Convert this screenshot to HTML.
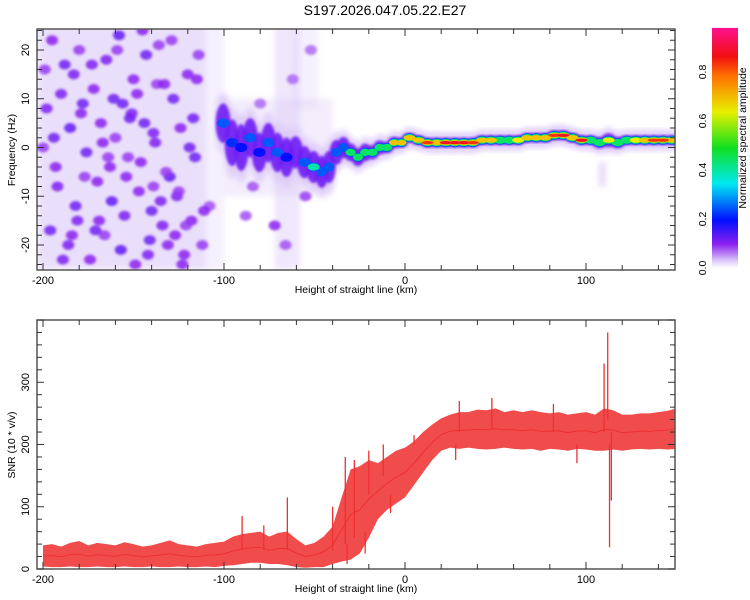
<!DOCTYPE html>
<html><head><meta charset="utf-8">
<style>
body{margin:0;background:#fff;}
svg{display:block;font-family:"Liberation Sans",sans-serif;}
</style></head>
<body>
<svg id="c" width="750" height="600" viewBox="0 0 750 600">
<defs>
<linearGradient id="cmap" x1="0" y1="1" x2="0" y2="0">
<stop offset="0" stop-color="#ffffff"/>
<stop offset="0.03" stop-color="#dcc8f8"/>
<stop offset="0.1" stop-color="#8a20f0"/>
<stop offset="0.2" stop-color="#0010ff"/>
<stop offset="0.35" stop-color="#00e8f0"/>
<stop offset="0.5" stop-color="#10e020"/>
<stop offset="0.65" stop-color="#e8f000"/>
<stop offset="0.8" stop-color="#ff7000"/>
<stop offset="0.88" stop-color="#f01010"/>
<stop offset="1" stop-color="#ff1090"/>
</linearGradient>
<clipPath id="clipTop"><rect x="37" y="29" width="638" height="241"/></clipPath>
<clipPath id="clipBot"><rect x="37" y="320" width="638" height="249"/></clipPath>
<filter id="blur1"><feGaussianBlur stdDeviation="1.2"/></filter>
<filter id="blur3"><feGaussianBlur stdDeviation="3"/></filter>
</defs>
<text x="385" y="15" text-anchor="middle" font-size="14">S197.2026.047.05.22.E27</text>
<g id="top"></g>
<g id="bot"></g>
<g id="cbar"></g>
</svg>
<script>
// ---- data ----
const xTicks = [-200, -100, 0, 100];
const fTicks = [-20, -10, 0, 10, 20];
const snrTicks = [0, 100, 200, 300];
const cbTicks = [0.0, 0.2, 0.4, 0.6, 0.8];
// noise zones
const zoneX0 = [-203, -110, -72, -100, -62, 107];
const zoneX1 = [-110, -100, -58, -40, -48, 111];
const zoneF0 = [-25, -25, -25, -10, 8, -8];
const zoneF1 = [25, 25, 25, 10, 25, -3];
const zoneOp = [0.55, 0.25, 0.4, 0.3, 0.25, 0.6];
// noise blobs
const blobX = [-195,-188,-180,-172,-165,-158,-150,-143,-136,-128,-120,-114,-198,-185,-176,-168,-160,-152,-146,-138,-130,-124,-116,-192,-182,-170,-162,-155,-147,-140,-132,-126,-118,-196,-186,-174,-166,-157,-149,-141,-134,-122,-112,-190,-178,-163,-151,-137,-127,-119,-108,-84,-72,-66,-55,-62,-80,-88,-52,-70,
 -200,-193,-183,-177,-169,-161,-153,-145,-139,-131,-125,-117,-111,-199,-189,-179,-171,-159,-148,-142,-133,-121,-194,-184,-173,-164,-154,-144,-135,-129,-115,-181,-167,-156,-139,-123];
const blobF = [22,17,20,12,18,23,14,19,21,10,15,19,8,4,-1,5,2,6,-3,1,-6,4,-2,-8,-12,-7,-11,-14,-9,-13,-5,-10,-15,-17,-20,-23,-18,-21,-24,-19,-16,-22,-20,11,9,-4,7,13,-18,0,-12,-8,-16,-20,-10,14,9,-14,20,-3,
 0,-4,15,-6,-15,10,-2,24,3,-20,-9,6,-13,16,-23,7,-17,20,11,-22,13,-16,2,-18,17,-2,-6,5,-11,22,14,-15,1,9,-8,-24];
const blobA = [0.1,0.12,0.09,0.1,0.11,0.13,0.1,0.12,0.09,0.12,0.1,0.09,0.11,0.13,0.12,0.1,0.09,0.12,0.1,0.11,0.13,0.1,0.12,0.11,0.12,0.1,0.13,0.11,0.1,0.12,0.09,0.11,0.1,0.12,0.11,0.1,0.09,0.13,0.1,0.12,0.11,0.1,0.09,0.11,0.12,0.1,0.11,0.09,0.1,0.12,0.08,0.08,0.1,0.08,0.09,0.07,0.07,0.08,0.07,0.08,
 0.09,0.1,0.11,0.09,0.1,0.12,0.09,0.1,0.11,0.1,0.09,0.12,0.1,0.09,0.11,0.1,0.12,0.09,0.1,0.11,0.1,0.09,0.12,0.1,0.11,0.09,0.1,0.12,0.11,0.09,0.1,0.11,0.1,0.12,0.09,0.1];
// signal ridge
const ridgeX = [-103,-98,-93,-88,-83,-78,-73,-68,-63,-58,-53,-48,-44,-40,-36,-32,-28,-24,-20,-16,-12,-8,-4,0,5,10,15,20,25,30,35,40,45,50,55,60,65,70,75,80,85,90,95,100,105,110,115,120,125,130,135,140,145,150];
const ridgeF = [5,1,0,2,-1,1,-1,-2,-1,-3,-4,-5,-4,-1,0,-1,-2,-1,-1,0,0,1,1,2,1.5,1,1,1,1,1,1,1.5,1.5,1.5,1.5,1.5,2,2,2,2.5,2.5,2,1.5,1.5,1,1.5,1,1.5,1.5,1.5,1.5,1.5,1.5,1.5];
const ridgeW = [5,6,6,5,5,5,5,5,4,4,4,4,4,3,2.5,2,2,2,1.5,1.5,1.2,1.2,1,1,1,1,1,1,1,1,1,1,1,1,1,1,1,1,1,1,1,1,1,1,1.2,1.5,1.2,1,1,1,1,1,1,1];
const ridgeA = [0.3,0.22,0.2,0.25,0.2,0.3,0.25,0.2,0.18,0.25,0.4,0.35,0.3,0.25,0.35,0.45,0.5,0.5,0.55,0.6,0.6,0.7,0.75,0.8,0.7,0.85,0.75,0.9,0.9,0.9,0.85,0.8,0.7,0.55,0.6,0.65,0.7,0.75,0.8,0.85,0.95,0.75,0.9,0.6,0.55,0.65,0.55,0.6,0.65,0.8,0.85,0.85,0.8,0.8];
// SNR envelope
const snrX = [-200,-195,-190,-185,-180,-175,-170,-165,-160,-155,-150,-145,-140,-135,-130,-125,-120,-115,-110,-105,-100,-95,-90,-85,-80,-75,-70,-65,-60,-55,-50,-45,-40,-35,-30,-25,-20,-15,-10,-5,0,5,10,15,20,25,30,35,40,45,50,55,60,65,70,75,80,85,90,95,100,105,110,115,120,125,130,135,140,145,150];
const snrHigh = [38,40,36,42,45,38,42,40,38,43,40,36,38,42,46,40,38,36,40,42,44,52,56,58,60,52,58,60,48,38,42,52,68,115,160,165,175,170,180,190,195,205,220,232,242,248,252,252,256,255,258,252,255,252,255,252,250,252,248,250,252,248,258,255,248,248,250,250,252,254,258];
const snrLow = [4,3,3,4,3,3,4,3,3,4,3,3,4,3,3,4,3,3,4,3,5,6,8,10,10,8,8,6,3,2,3,3,8,12,15,25,50,80,95,105,115,135,155,175,190,195,193,195,193,192,193,195,193,192,193,190,193,192,190,193,192,190,190,192,190,192,193,192,193,192,193];
const spikeX = [-90,-78,-65,-40,-33,-28,-20,-12,5,30,48,82,110,112,113,114,150,-32,-22,-8,28,95];
const spikeFrom = [30,30,30,30,40,50,120,150,200,220,225,220,220,240,200,220,230,40,60,120,200,200];
const spikeTo = [85,70,115,100,180,175,190,200,215,270,275,265,330,380,35,110,270,8,25,90,175,170];

// ---- scales ----
const X = v => 405 + 1.81*v;
const F = f => 147.5 - 4.875*f;
const Y = s => 569 - 0.6225*s;
const CB = a => 268 - 245*a;
const NS = 'http://www.w3.org/2000/svg';
function mk(tag, attrs, parent){const e=document.createElementNS(NS,tag);for(const k in attrs)e.setAttribute(k,attrs[k]);parent.appendChild(e);return e;}
function cmap(a){
  const st=[[0,[255,255,255]],[0.03,[220,200,248]],[0.1,[138,32,240]],[0.2,[0,16,255]],[0.35,[0,232,240]],[0.5,[16,224,32]],[0.65,[232,240,0]],[0.8,[255,112,0]],[0.88,[240,16,16]],[1,[255,16,144]]];
  a=Math.max(0,Math.min(1,a));
  for(let i=1;i<st.length;i++){if(a<=st[i][0]){const t=(a-st[i-1][0])/(st[i][0]-st[i-1][0]);const c=st[i-1][1].map((v,j)=>Math.round(v+(st[i][1][j]-v)*t));return `rgb(${c})`;}}
  return 'rgb(255,16,144)';
}
const gTop=document.getElementById('top'), gBot=document.getElementById('bot'), gCbar=document.getElementById('cbar');

// ---- spectrogram ----
const tg=mk('g',{'clip-path':'url(#clipTop)'},gTop);
const zg=mk('g',{filter:'url(#blur3)'},tg);
zoneX0.forEach((x0,i)=>{
  const r=mk('rect',{x:X(x0),y:F(zoneF1[i]),width:X(zoneX1[i])-X(x0),height:F(zoneF0[i])-F(zoneF1[i]),fill:'#d8c4f6',opacity:zoneOp[i]},zg);
  
  
});
const bg=mk('g',{filter:'url(#blur1)'},tg);
blobX.forEach((x,i)=>{
  const e=mk('ellipse',{cx:X(x),cy:F(blobF[i]),rx:6,ry:5,fill:cmap(blobA[i]),opacity:0.85},bg);
  
  
});
const rg=mk('g',{},tg);
ridgeX.forEach((x,i)=>{
  if(i===ridgeX.length-1)return;
  const x2=ridgeX[i+1];
  const w=X(x2)-X(x)+2;
  const e=mk('ellipse',{cx:(X(x)+X(x2))/2,cy:F(ridgeF[i]),rx:w/2+3,ry:ridgeW[i]*4.875+6,fill:'#dcc8f8',opacity:0.8,filter:'url(#blur3)'},rg);
  
  
});
ridgeX.forEach((x,i)=>{
  if(i===ridgeX.length-1)return;
  const x2=ridgeX[i+1];
  const w=X(x2)-X(x)+2;
  const e=mk('ellipse',{cx:(X(x)+X(x2))/2,cy:F(ridgeF[i]),rx:w/2+2,ry:ridgeW[i]*4.875*0.75+1.5,fill:cmap(0.12),opacity:0.9,filter:'url(#blur1)'},rg);
  
  
});
[[0.2,4.6],[0.4,3.6],[0.65,2.6],[0.85,1.6]].forEach(([lv,ry])=>{
  ridgeX.forEach((x,i)=>{
    if(i===ridgeX.length-1)return;
    const a=ridgeA[i];
    if(a<lv)return;
    const x2=ridgeX[i+1];
    const w=X(x2)-X(x)+1;
    const e=mk('ellipse',{cx:(X(x)+X(x2))/2,cy:F(ridgeF[i]),rx:w/2+1,ry:ry,fill:cmap(Math.min(a,lv+0.05))},rg);
    
    
  });
});

function frame(g,x0,y0,x1,y1){
  const r=mk('rect',{x:x0,y:y0,width:x1-x0,height:y1-y0,fill:'none',stroke:'#555','stroke-width':1.5},g);
  
  
}
function xAxis(g,y0,y1){
  for(let v=-200;v<=140;v+=20){
    const big=v%100===0, L=big?7:5;
    mk('line',{x1:X(v),x2:X(v),y1:y1,y2:y1-L,stroke:'#333'},g);
    mk('line',{x1:X(v),x2:X(v),y1:y0,y2:y0+L,stroke:'#333'},g);
  }
  xTicks.forEach(v=>{
    const t=mk('text',{x:X(v),y:y1+14,'text-anchor':'middle','font-size':11},g);
    t.textContent=v;
    
    
  });
  const t=mk('text',{x:356,y:y1+23,'text-anchor':'middle','font-size':10.5},g);
  t.textContent='Height of straight line (km)';
  
  
}
frame(gTop,37,29,675,270);
xAxis(gTop,29,270);
for(let f=-24;f<=24;f+=2){
  const big=f%10===0, L=big?7:5;
  mk('line',{x1:37,x2:37+L,y1:F(f),y2:F(f),stroke:'#333'},gTop);
  mk('line',{x1:675,x2:675-L,y1:F(f),y2:F(f),stroke:'#333'},gTop);
}
fTicks.forEach(f=>{
  const t=mk('text',{x:0,y:0,'text-anchor':'middle','font-size':11,transform:`translate(29,${F(f)}) rotate(-90)`},gTop);
  t.textContent=f;
  
  
});
{const t=mk('text',{x:0,y:0,'text-anchor':'middle','font-size':10.5,transform:'translate(15,150) rotate(-90)'},gTop);
t.textContent='Frequency (Hz)';

}

// ---- SNR ----
const sg=mk('g',{'clip-path':'url(#clipBot)'},gBot);
let pts=snrX.map((x,i)=>`${X(x)},${Y(snrHigh[i])}`);
for(let i=snrX.length-1;i>=0;i--)pts.push(`${X(snrX[i])},${Y(snrLow[i])}`);
const band=mk('polygon',{points:pts.join(' '),fill:'#f03838',opacity:0.9},sg);


const mid=mk('polyline',{points:snrX.map((x,i)=>`${X(x)},${Y((snrHigh[i]+snrLow[i])/2)}`).join(' '),fill:'none',stroke:'#ee3030','stroke-width':1},sg);


spikeX.forEach((x,i)=>{
  const l=mk('line',{x1:X(x),x2:X(x),y1:Y(spikeFrom[i]),y2:Y(spikeTo[i]),stroke:'#ee3030','stroke-width':1.3},sg);
  
  
});
frame(gBot,37,320,675,569);
xAxis(gBot,320,569);
for(let s=0;s<=400;s+=20){
  const big=s%100===0, L=big?7:5;
  mk('line',{x1:37,x2:37+L,y1:Y(s),y2:Y(s),stroke:'#333'},gBot);
  mk('line',{x1:675,x2:675-L,y1:Y(s),y2:Y(s),stroke:'#333'},gBot);
}
snrTicks.forEach(s=>{
  const t=mk('text',{x:0,y:0,'text-anchor':'middle','font-size':11,transform:`translate(29,${Y(s)}) rotate(-90)`},gBot);
  t.textContent=s;
  
  
});
{const t=mk('text',{x:0,y:0,'text-anchor':'middle','font-size':10.5,transform:'translate(15,445) rotate(-90)'},gBot);
t.textContent='SNR (10 * v/v)';

}

// ---- colorbar ----
{const r=mk('rect',{x:712,y:CB(0.98),width:26,height:CB(0)-CB(0.98),fill:'url(#cmap)'},gCbar);

}
cbTicks.forEach(a=>{
  const t=mk('text',{x:0,y:0,'text-anchor':'middle','font-size':10.5,transform:`translate(706,${CB(a)}) rotate(-90)`},gCbar);
  t.textContent=a.toFixed(1);
  
  
});
{const t=mk('text',{x:0,y:0,'text-anchor':'middle','font-size':10.5,transform:'translate(746,138) rotate(-90)'},gCbar);
t.textContent='Normalized spectral amplitude';

}
</script>
</body></html>
